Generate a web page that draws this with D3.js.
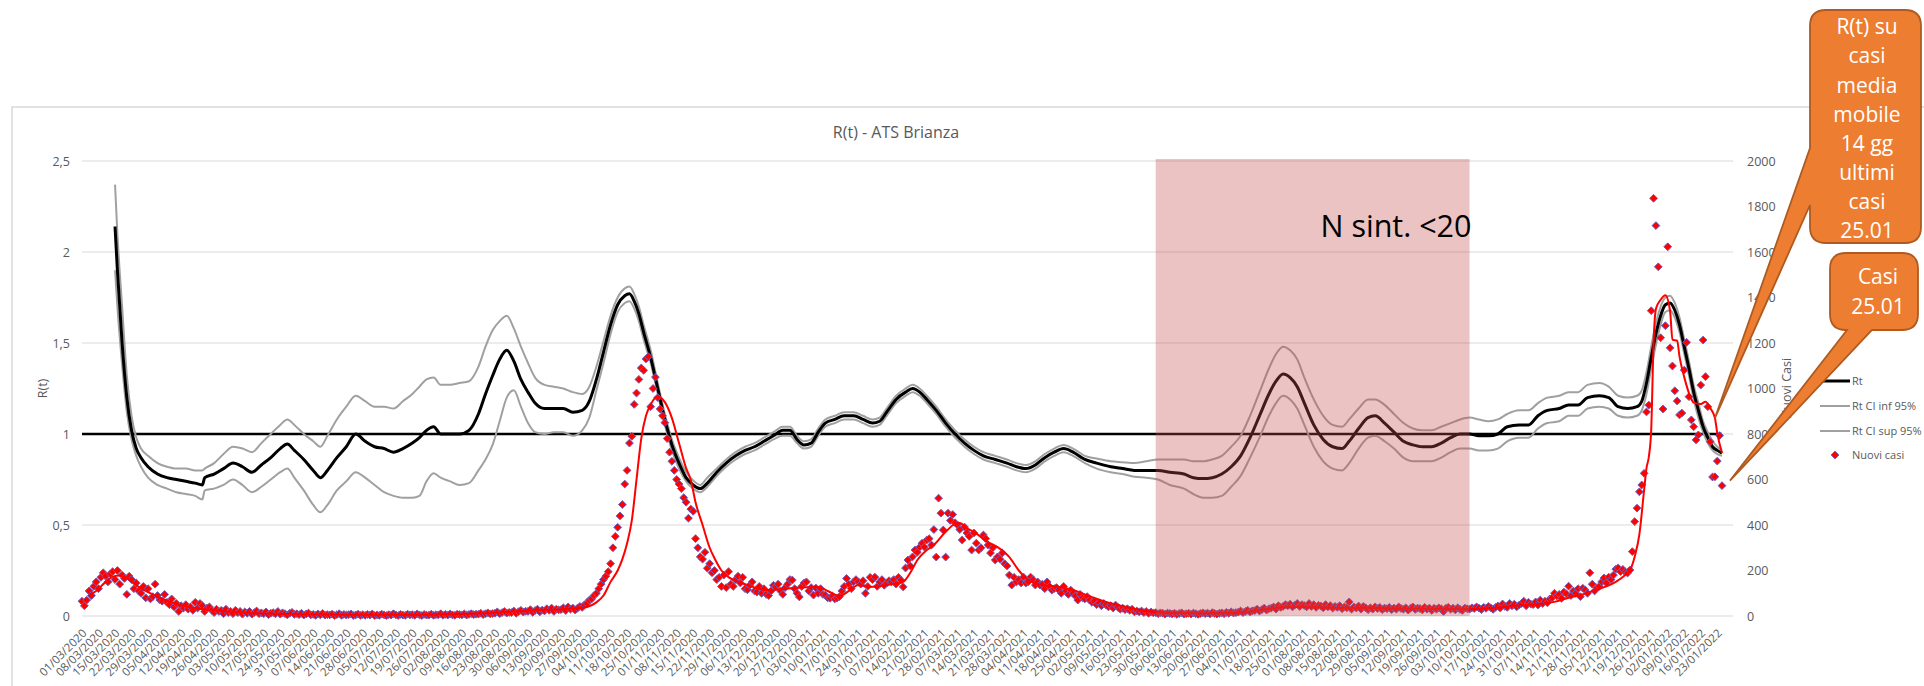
<!DOCTYPE html>
<html><head><meta charset="utf-8">
<script src="https://cdn.jsdelivr.net/npm/d3@7"></script>
<style>
body{margin:0;background:#fff;overflow:hidden}
svg{display:block;font-family:"Open Sans",sans-serif}
</style>
</head><body>
<svg id="c" width="1924" height="686"></svg>
<script>
const chartTitle = "R(t) - ATS Brianza";
const leftAxisTitle = "R(t)";
const rightAxisTitle = "Nuovi Casi";
const legendLabels = ["Rt", "Rt CI inf 95%", "Rt CI sup 95%", "Nuovi casi"];
const bandLabel = "N sint. <20";
const bandStart = "30/05/2021", bandEnd = "10/10/2021";
const callout1Lines = ["R(t) su","casi","media","mobile","14 gg","ultimi","casi","25.01"];
const callout2Lines = ["Casi","25.01"];
const leftTicks = [0, 0.5, 1, 1.5, 2, 2.5];
const rightTicks = [0,200,400,600,800,1000,1200,1400,1600,1800,2000];
const refLine = 1;

// weekly category labels (one every 7 days starting 01/03/2020)
const tickLabels = ["01/03/2020","08/03/2020","15/03/2020","22/03/2020","29/03/2020","05/04/2020","12/04/2020","19/04/2020","26/04/2020","03/05/2020","10/05/2020","17/05/2020","24/05/2020","31/05/2020","07/06/2020","14/06/2020","21/06/2020","28/06/2020","05/07/2020","12/07/2020","19/07/2020","26/07/2020","02/08/2020","09/08/2020","16/08/2020","23/08/2020","30/08/2020","06/09/2020","13/09/2020","20/09/2020","27/09/2020","04/10/2020","11/10/2020","18/10/2020","25/10/2020","01/11/2020","08/11/2020","15/11/2020","22/11/2020","29/11/2020","06/12/2020","13/12/2020","20/12/2020","27/12/2020",
"03/01/2021","10/01/2021","17/01/2021","24/01/2021","31/01/2021","07/02/2021","14/02/2021","21/02/2021","28/02/2021","07/03/2021","14/03/2021","21/03/2021","28/03/2021","04/04/2021","11/04/2021","18/04/2021","25/04/2021","02/05/2021","09/05/2021","16/05/2021","23/05/2021","30/05/2021","06/06/2021","13/06/2021","20/06/2021","27/06/2021","04/07/2021","11/07/2021","18/07/2021","25/07/2021","01/08/2021","08/08/2021","15/08/2021","22/08/2021","29/08/2021","05/09/2021","12/09/2021","19/09/2021","26/09/2021","03/10/2021","10/10/2021","17/10/2021","24/10/2021","31/10/2021","07/11/2021","14/11/2021","21/11/2021","28/11/2021","05/12/2021","12/12/2021","19/12/2021","26/12/2021",
"02/01/2022","09/01/2022","16/01/2022","23/01/2022"];

// daily new cases (day 0 = 01/03/2020), one row per week
const nuoviCasi = [
65,45,70,110,90,130,150, 120,170,190,175,150,185,195, 160,200,140,180,165,95,175,
160,120,145,110,100,130,80, 120,75,85,140,90,70,65, 95,60,50,75,40,55,20,
45,35,50,30,40,25,60, 35,55,45,20,35,40,25, 15,30,20,25,10,30,15,
20,10,25,15,20,8,18, 12,20,8,15,22,10,14, 10,18,6,12,15,9,20,
8,14,10,5,12,16,7, 10,6,12,4,9,13,5, 7,3,9,5,11,4,6,
5,8,2,6,10,3,7, 4,6,9,2,5,8,3, 6,3,7,4,9,2,5,
3,8,5,2,6,4,10, 5,2,7,4,3,8,5, 6,3,9,5,2,7,4,
4,8,3,6,5,10,3, 7,4,9,5,3,8,6, 5,9,4,7,10,6,8,
8,12,6,10,14,9,11, 12,18,10,15,20,13,16, 15,22,12,19,25,17,21,
20,28,16,24,30,18,26, 22,32,25,35,20,30,27, 28,36,24,40,30,35,26,
35,42,38,50,55,70,75, 90,100,120,140,160,175,195, 230,300,350,390,440,490,580,
640,760,790,930,980,1040,1090, 1080,1130,1140,920,1000,1050,960, 910,880,850,780,720,680,640,
600,580,560,520,500,430,470, 460,340,300,260,250,280,210, 230,190,200,160,170,130,180,
125,195,140,130,160,175,145, 170,120,115,135,150,110,105, 130,100,120,95,90,110,135,
128,140,110,95,125,140,160, 158,120,100,84,130,145,150, 110,125,92,123,100,120,95,
92,80,78,88,75,79,85, 110,130,165,140,120,150,160, 150,140,155,100,130,170,160,
171,130,150,160,135,145,155, 150,160,140,170,158,128,211, 246,220,260,290,280,303,320,
303,334,340,312,380,259,518, 452,378,259,452,420,446,410, 400,380,334,391,365,350,290,
365,320,290,300,356,340,312, 277,300,246,260,250,277,230, 220,180,136,170,150,160,145,
171,145,150,171,160,136,150, 136,140,120,150,130,114,120, 125,114,100,130,110,95,114,
100,88,70,95,80,75,85, 70,60,65,50,58,45,55, 48,40,45,35,48,38,30,
35,28,32,25,30,18,22, 18,22,15,20,12,18,14, 15,10,14,12,8,13,11,
9,12,7,11,14,8,10, 12,8,13,10,7,11,14, 10,13,9,15,11,8,12,
14,10,16,12,18,13,15, 17,22,15,20,25,18,23, 24,30,22,28,35,26,32,
35,40,30,45,38,42,50, 45,52,40,48,55,42,50, 46,40,55,42,50,38,47,
44,36,50,40,46,35,42, 38,45,32,40,36,62,30, 40,35,44,30,42,36,28,
36,30,40,33,38,28,35, 32,38,28,35,30,40,33, 30,36,26,34,40,29,35,
33,27,38,30,35,25,34, 30,36,32,20,34,38,30, 34,27,36,29,25,35,32,
30,36,33,40,35,28,38, 34,42,36,29,38,44,35, 53,42,38,55,45,52,40,
48,55,65,45,60,52,50, 62,48,70,55,65,58,75, 80,100,88,95,78,105,98,
131,90,110,100,120,85,122, 115,100,190,140,110,125,130, 150,167,145,171,160,180,206,
211,195,205,193,189,202,283, 415,474,546,576,627,897,927, 1342,1836,1716,1535,1223,910,1276,
1623,1179,1099,990,945,884,892, 1081,1203,964,862,832,774,796, 1015,1213,1052,920,766,611,612,
681,793,573];

// R(t) and its 95% CI (day index, values)
const rtDays = [14,15,17,19,21,23,25,28,32,36, 40,44,48,51,52,56,60,64,68,72, 76,80,84,87,90,94,98,101,104,108,
112,116,120,124,128,132,136,140,143,146, 149,152,156,160,164,168,171,174,177,180, 183,186,189,192,196,200,204,208,212,215,
218,221,224,227,230,232,234,236,238,241, 244,247,250,253,256,259,262,265,269,273, 277,281,285,289,293,297,300,303,306,309,
312,315,319,323,327,331,335,338,341,345, 349,352,355,358,362,366,370,374,378,382, 387,392,396,400,404,408,412,416,420,425,
430,436,441,446,451,456,461,467,471,475, 479,483,487,491,495,499,503,506,509,512, 515,518,522,526,530,534,537,541,545,548,
552,556,560,564,568,572,576,580,584,588, 592,596,600,604,609,613,617,621,626,630, 634,638,643,647,651,655,659,661,663,665,
667,669,671,673,675,677,679,681,683,685, 687,689,691,693,695];
const rtValues = [2.14,1.90,1.50,1.20,1.02,0.92,0.87,0.82,0.78,0.76, 0.75,0.74,0.73,0.72,0.76,0.78,0.81,0.84,0.82,0.79, 0.83,0.87,0.92,0.945,0.91,0.86,0.80,0.76,0.80,0.87,
0.93,1.00,0.96,0.93,0.92,0.90,0.92,0.95,0.98,1.02, 1.04,1.00,1.00,1.00,1.02,1.11,1.22,1.32,1.41,1.46, 1.40,1.30,1.23,1.17,1.14,1.14,1.14,1.12,1.13,1.18,
1.30,1.45,1.60,1.71,1.76,1.77,1.73,1.66,1.56,1.42, 1.25,1.08,0.94,0.84,0.76,0.72,0.70,0.73,0.79,0.84, 0.88,0.91,0.93,0.96,0.99,1.02,1.02,0.97,0.94,0.95,
1.01,1.06,1.08,1.10,1.10,1.08,1.06,1.07,1.12,1.19, 1.23,1.25,1.23,1.19,1.13,1.06,1.00,0.95,0.91,0.88, 0.86,0.84,0.82,0.81,0.83,0.87,0.90,0.92,0.90,0.86,
0.84,0.82,0.81,0.80,0.80,0.80,0.79,0.78,0.76,0.755, 0.76,0.78,0.82,0.88,0.98,1.10,1.22,1.29,1.33,1.31, 1.26,1.17,1.05,0.97,0.93,0.92,0.96,1.03,1.09,1.10,
1.06,1.01,0.96,0.94,0.93,0.93,0.95,0.98,1.00,1.00, 0.99,0.99,1.00,1.04,1.05,1.05,1.10,1.13,1.14,1.16, 1.16,1.20,1.21,1.20,1.15,1.14,1.15,1.18,1.28,1.42,
1.55,1.65,1.71,1.72,1.68,1.60,1.48,1.36,1.23,1.13, 1.04,0.98,0.93,0.91,0.895];
const ciInfValues = [1.90,1.70,1.38,1.12,0.97,0.88,0.82,0.76,0.72,0.70, 0.68,0.67,0.66,0.64,0.69,0.70,0.72,0.75,0.72,0.68, 0.71,0.75,0.79,0.81,0.76,0.69,0.61,0.57,0.61,0.69,
0.74,0.79,0.76,0.72,0.68,0.66,0.65,0.65,0.66,0.74, 0.785,0.76,0.74,0.72,0.73,0.80,0.86,0.94,1.07,1.20, 1.24,1.15,1.06,1.01,1.00,1.01,1.01,0.99,1.02,1.09,
1.24,1.39,1.55,1.67,1.72,1.73,1.69,1.62,1.52,1.39, 1.22,1.05,0.91,0.81,0.74,0.70,0.68,0.71,0.77,0.82, 0.86,0.89,0.91,0.94,0.97,0.99,0.99,0.95,0.92,0.93,
0.99,1.04,1.06,1.08,1.08,1.06,1.04,1.05,1.10,1.17, 1.21,1.23,1.21,1.17,1.11,1.04,0.98,0.93,0.89,0.86, 0.84,0.82,0.80,0.79,0.81,0.85,0.88,0.90,0.88,0.84,
0.81,0.79,0.78,0.765,0.76,0.75,0.72,0.70,0.67,0.65, 0.65,0.66,0.71,0.77,0.87,0.98,1.10,1.17,1.21,1.19, 1.14,1.05,0.93,0.85,0.81,0.80,0.84,0.92,0.98,0.99,
0.96,0.92,0.87,0.85,0.85,0.85,0.87,0.90,0.92,0.92, 0.91,0.91,0.92,0.96,0.98,0.98,1.03,1.06,1.07,1.10, 1.10,1.14,1.15,1.14,1.10,1.09,1.10,1.13,1.22,1.36,
1.49,1.60,1.67,1.68,1.64,1.56,1.44,1.32,1.19,1.09, 1.01,0.95,0.91,0.89,0.88];
const ciSupValues = [2.37,2.10,1.70,1.32,1.10,0.98,0.92,0.88,0.84,0.82, 0.81,0.81,0.80,0.80,0.81,0.84,0.89,0.93,0.92,0.90, 0.95,1.00,1.05,1.08,1.05,1.00,0.96,0.93,0.99,1.08,
1.15,1.21,1.18,1.15,1.15,1.14,1.18,1.22,1.26,1.30, 1.31,1.27,1.27,1.28,1.29,1.37,1.48,1.57,1.62,1.65, 1.58,1.48,1.39,1.31,1.27,1.26,1.25,1.23,1.22,1.26,
1.37,1.51,1.65,1.75,1.80,1.81,1.77,1.70,1.60,1.46, 1.28,1.11,0.97,0.87,0.79,0.745,0.72,0.76,0.81,0.86, 0.90,0.93,0.95,0.98,1.01,1.04,1.04,0.99,0.96,0.97,
1.03,1.08,1.10,1.12,1.12,1.10,1.08,1.09,1.14,1.21, 1.25,1.27,1.25,1.21,1.15,1.08,1.02,0.97,0.93,0.90, 0.88,0.86,0.84,0.83,0.85,0.89,0.92,0.94,0.92,0.88,
0.865,0.85,0.845,0.84,0.85,0.86,0.86,0.86,0.85,0.85, 0.86,0.88,0.93,0.99,1.10,1.23,1.36,1.44,1.48,1.46, 1.41,1.31,1.19,1.10,1.05,1.04,1.08,1.14,1.19,1.19,
1.16,1.11,1.06,1.03,1.02,1.02,1.04,1.06,1.08,1.09, 1.08,1.07,1.08,1.11,1.13,1.13,1.17,1.20,1.21,1.23, 1.23,1.27,1.28,1.26,1.21,1.20,1.21,1.24,1.34,1.48,
1.61,1.70,1.75,1.76,1.72,1.64,1.52,1.40,1.27,1.17, 1.07,1.01,0.96,0.93,0.91];

// 14-day moving average of new cases (red line)
const mmDays = [3,6,10,13,16,20,24,28,32,38, 45,55,65,75,90,110,130,150,165,180, 195,208,214,218,221,224,227,229,231,233,
235,237,239,241,244,247,250,253,256,258, 260,263,266,268,271,274,278,282,286,291, 296,302,307,312,316,321,325,329,334,338,
343,348,351,354,358,361,366,370,372,375, 378,383,388,393,397,401,405,410,415,420, 425,429,434,439,444,448,455,467,476,486,
495,505,512,518,526,535,545,555,565,575, 587,595,603,610,617,624,630,636,641,646, 650,654,656,658,660,662,663,664,665,666,
667,669,671,673,674,676,677,679,681,683, 686,688,690,692,693,695];
const mmValues = [92,110,150,172,178,160,128,105,85,60, 40,26,17,12,8,6,5,7,10,18, 26,33,40,60,90,150,200,250,320,420,
600,780,880,930,965,940,870,760,650,598, 500,400,300,255,200,171,150,136,122,114, 118,123,126,128,110,88,110,136,128,132,
140,150,190,246,290,312,370,405,409,385, 370,330,303,259,200,158,140,132,125,114, 95,79,62,48,35,26,18,13,12,13,
20,35,40,40,38,35,36,33,32,31, 30,33,40,48,52,62,80,95,112,130, 150,180,200,260,360,554,650,700,818,1200,
1350,1390,1410,1340,1215,1210,1140,1050,980,938, 932,942,914,870,804,716];

const svg = d3.select("#c");
const grey = "#595959";
const x = d3.scaleLinear().domain([0, nuoviCasi.length - 1]).range([82, 1722]);
const yL = d3.scaleLinear().domain([0, 2.5]).range([616, 161]);
const yR = d3.scaleLinear().domain([0, 2000]).range([616, 161]);
const plotRight = 1733;

// chart frame
svg.append("rect").attr("x",12).attr("y",107).attr("width",2000).attr("height",800)
  .attr("fill","none").attr("stroke","#d9d9d9").attr("stroke-width",1.5);

// title
svg.append("text").attr("x",896).attr("y",132).attr("dy","0.35em").attr("text-anchor","middle")
  .attr("fill",grey).style("font-size","16px").text(chartTitle);

// gridlines
svg.append("g").selectAll("line").data(leftTicks).join("line")
  .attr("x1",x(0)).attr("x2",plotRight).attr("y1",d=>yL(d)).attr("y2",d=>yL(d))
  .attr("stroke","#d9d9d9").attr("stroke-width",1);

// left axis
const fmt = d => String(d).replace(".", ",");
const axL = svg.append("g").attr("transform","translate(76,0)")
  .call(d3.axisLeft(yL).tickValues(leftTicks).tickFormat(fmt).tickSize(0).tickPadding(6));
axL.select(".domain").remove();
axL.selectAll("text").attr("fill",grey).style("font-size","12.5px").style("font-family","Open Sans");

// right axis
const axR = svg.append("g").attr("transform","translate(1741,0)")
  .call(d3.axisRight(yR).tickValues(rightTicks).tickFormat(d3.format("d")).tickSize(0).tickPadding(6));
axR.select(".domain").remove();
axR.selectAll("text").attr("fill",grey).style("font-size","12.5px").style("font-family","Open Sans");

// x axis
const tickDays = tickLabels.map((_, i) => i * 7);
const axX = svg.append("g").attr("transform","translate(0,631)")
  .call(d3.axisBottom(x).tickValues(tickDays).tickFormat((d,i)=>tickLabels[i]).tickSize(0));
axX.select(".domain").remove();
axX.selectAll("text").attr("x",0).attr("y",0).attr("dy","0.35em")
  .attr("transform","translate(2,0) rotate(-45)").style("text-anchor","end")
  .attr("fill",grey).style("font-size","11.5px").style("font-family","Open Sans");

// axis titles
svg.append("text").attr("transform",`translate(43,${(yL(0)+yL(2.5))/2}) rotate(-90)`)
  .attr("text-anchor","middle").attr("dy","0.35em").attr("fill",grey).style("font-size","12.5px").text(leftAxisTitle);
svg.append("text").attr("transform",`translate(1787,${(yR(0)+yR(2000))/2}) rotate(-90)`)
  .attr("text-anchor","middle").attr("dy","0.35em").attr("fill",grey).style("font-size","12.5px").text(rightAxisTitle);

const curve = d3.curveMonotoneX;
// reference line R=1
svg.append("line").attr("x1",x(0)).attr("x2",x(nuoviCasi.length-1))
  .attr("y1",yL(refLine)).attr("y2",yL(refLine)).attr("stroke","#000").attr("stroke-width",2.5);

const lineRt = vals => d3.line().curve(curve).x((d,i)=>x(rtDays[i])).y(d=>yL(d))(vals);
svg.append("path").attr("d",lineRt(ciInfValues)).attr("fill","none").attr("stroke","#a0a0a0").attr("stroke-width",2);
svg.append("path").attr("d",lineRt(ciSupValues)).attr("fill","none").attr("stroke","#a0a0a0").attr("stroke-width",2);
svg.append("path").attr("d",lineRt(rtValues)).attr("fill","none").attr("stroke","#000").attr("stroke-width",3);

// dots
const diamond = "M0,-3.9L3.9,0L0,3.9L-3.9,0Z";
svg.append("g").selectAll("path").data(nuoviCasi).join("path")
  .attr("d",diamond).attr("transform",(d,i)=>`translate(${x(i)},${yR(d)})`)
  .attr("fill","#ff0000").attr("stroke","#6f5fc0").attr("stroke-width",1);

// moving average
svg.append("path").attr("d", d3.line().curve(curve).x((d,i)=>x(mmDays[i])).y(d=>yR(d))(mmValues))
  .attr("fill","none").attr("stroke","#ff0000").attr("stroke-width",2);

// shaded band
const b0 = tickLabels.indexOf(bandStart)*7, b1 = tickLabels.indexOf(bandEnd)*7;
svg.append("rect").attr("x",x(b0)).attr("y",yL(2.5)-2).attr("width",x(b1)-x(b0)).attr("height",yL(0)-yL(2.5)+2)
  .attr("fill","rgb(192,80,77)").attr("fill-opacity",0.34);
svg.append("text").attr("x",x(b1)+2).attr("y",yL(2.08)).attr("text-anchor","end")
  .attr("fill","#000").style("font-size","30.5px").text(bandLabel);

// legend
const lg = svg.append("g");
const legY = [381,406,431,455];
[["#000",3],["#a0a0a0",2],["#a0a0a0",2]].forEach((s,i)=>{
  lg.append("line").attr("x1",1820).attr("x2",1850).attr("y1",legY[i]).attr("y2",legY[i])
    .attr("stroke",s[0]).attr("stroke-width",s[1]);
});
lg.append("path").attr("d",diamond).attr("transform",`translate(1835,${legY[3]})`)
  .attr("fill","#ff0000").attr("stroke","#6f5fc0").attr("stroke-width",1);
legendLabels.forEach((t,i)=>{
  lg.append("text").attr("x",1852).attr("y",legY[i]).attr("dy","0.35em").attr("fill",grey)
    .style("font-size","11px").text(t);
});

// callouts
const orange = "#ed7d31", brown = "#ae5a21";
function calloutLeft(x0,y0,x1,y1,r,wa,wb,tip){
  return `M${x0+r},${y0}H${x1-r}Q${x1},${y0} ${x1},${y0+r}V${y1-r}Q${x1},${y1} ${x1-r},${y1}H${x0+r}Q${x0},${y1} ${x0},${y1-r}`+
    `V${wb}L${tip[0]},${tip[1]}L${x0},${wa}V${y0+r}Q${x0},${y0} ${x0+r},${y0}Z`;
}
function calloutBottom(x0,y0,x1,y1,r,wa,wb,tip){
  return `M${x0+r},${y0}H${x1-r}Q${x1},${y0} ${x1},${y0+r}V${y1-r}Q${x1},${y1} ${x1-r},${y1}H${wb}`+
    `L${tip[0]},${tip[1]}L${wa},${y1}H${x0+r}Q${x0},${y1} ${x0},${y1-r}V${y0+r}Q${x0},${y0} ${x0+r},${y0}Z`;
}
const n = nuoviCasi.length - 1;
const tip1 = [x(692), yR(mmValues[mmDays.indexOf(692)])];
const tip2 = [x(n)+8, yR(nuoviCasi[n])-5];
svg.append("path").attr("d",calloutLeft(1810,10,1921,243,16,148,205,tip1))
  .attr("fill",orange).attr("stroke",brown).attr("stroke-width",1.8);
svg.append("path").attr("d",calloutBottom(1830,253,1918,330,16,1847,1872,tip2))
  .attr("fill",orange).attr("stroke",brown).attr("stroke-width",1.8);
callout1Lines.forEach((t,i)=>{
  svg.append("text").attr("x",1867).attr("y",27+i*29.1).attr("dy","0.35em").attr("text-anchor","middle")
    .attr("fill","#fff").style("font-size","21px").text(t);
});
callout2Lines.forEach((t,i)=>{
  svg.append("text").attr("x",1878).attr("y",277+i*30).attr("dy","0.35em").attr("text-anchor","middle")
    .attr("fill","#fff").style("font-size","21px").text(t);
});
</script>
</body></html>
